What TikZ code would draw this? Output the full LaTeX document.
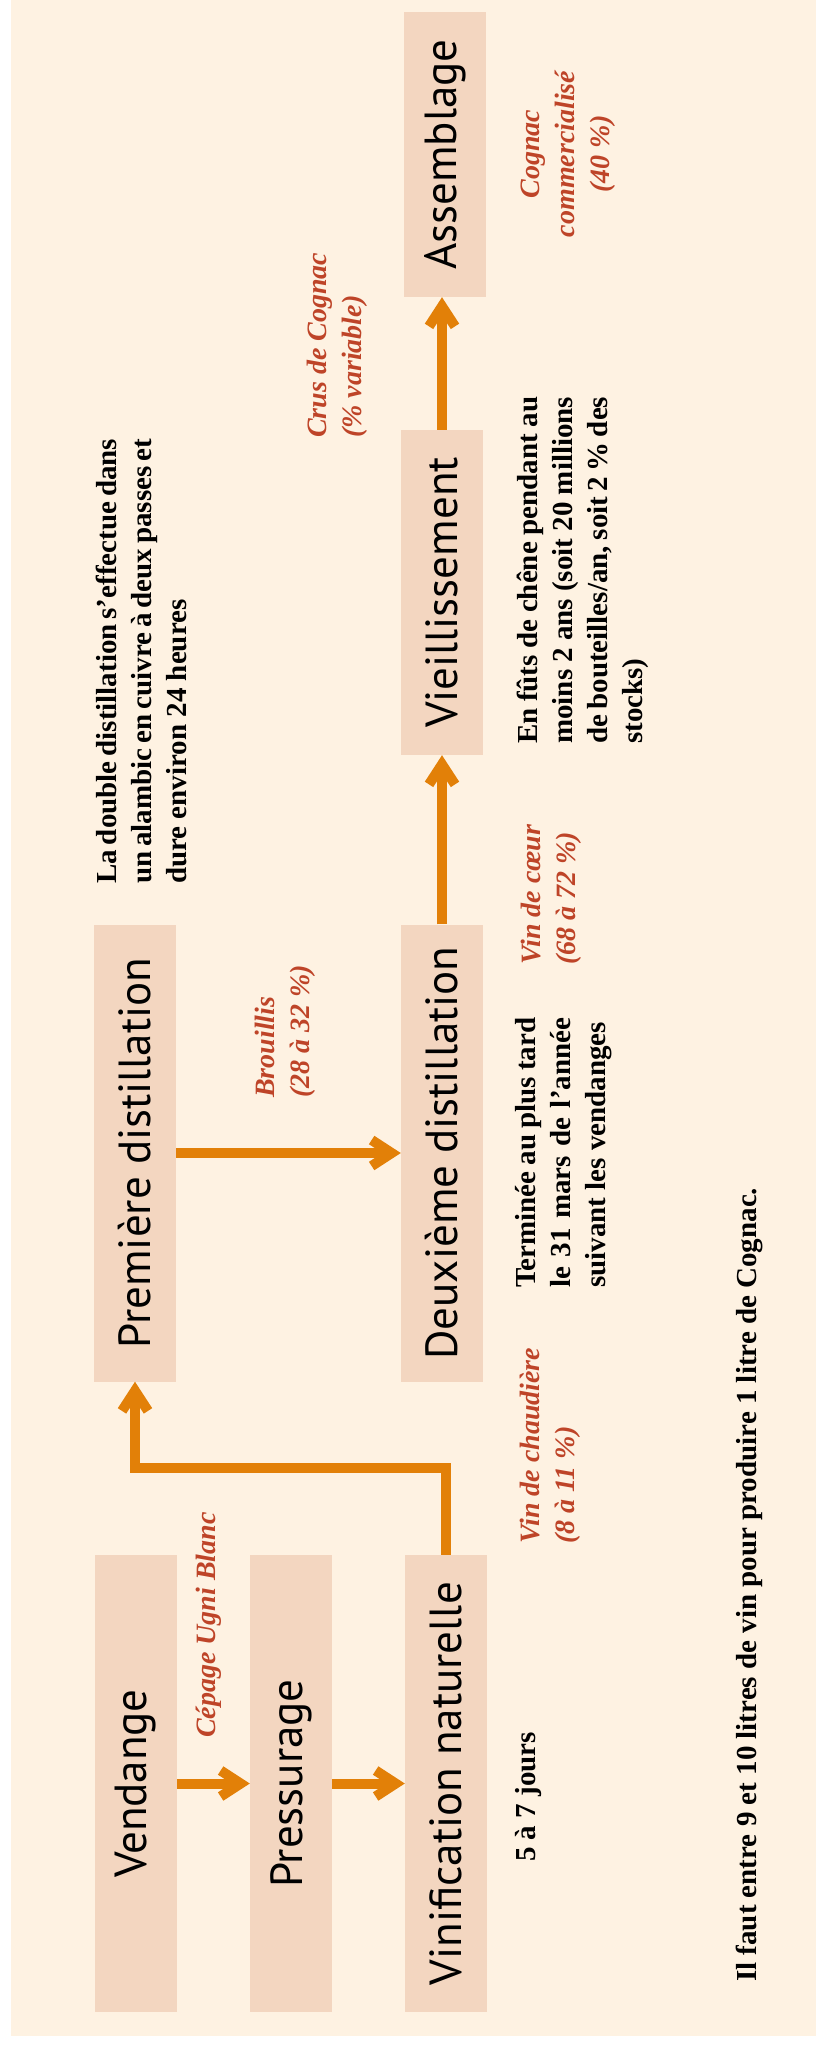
\documentclass[tikz,border=0pt]{standalone}
\usepackage{fontspec}
\usepackage{graphicx}
\setmainfont{Liberation Serif}
\newfontfamily\stagefont{PT Sans}
\usetikzlibrary{arrows.meta}

\definecolor{panelc}{RGB}{254,242,226}
\definecolor{stagec}{RGB}{243,214,192}
\definecolor{flowc}{RGB}{226,128,8}
\definecolor{yieldc}{RGB}{190,68,40}

\tikzset{
  stage/.style={fill=stagec, minimum width=82pt, minimum height=457pt, inner sep=0pt,
    font=\stagefont\fontsize{45}{50}\selectfont},
  flow/.style={draw=flowc, line width=10pt, line join=miter,
    -{Straight Barb[length=20pt,width=26pt]}},
  note/.style={rotate=90, anchor=north west, inner sep=0pt, align=justify,
    font=\bfseries\fontsize{29}{35}\selectfont},
  yield/.style={rotate=90, anchor=north west, inner sep=0pt, align=left, text=yieldc,
    font=\bfseries\itshape\fontsize{28}{35}\selectfont},
}

\begin{document}
\begin{tikzpicture}[x=1pt,y=1pt,yscale=-1,xscale=1]
\useasboundingbox (0,0) rectangle (816,2045);
\fill [white] (0,0) rectangle (816,2045);
%Shape: Rectangle [panel]
\fill [panelc] (11,0) rectangle (816,2036);

%Shape: Rectangle [stages]
\draw (136,1783.5) node [stage] (vend) {\rotatebox{90}{Vendange}};
\draw (291,1783.5) node [stage] (press) {\rotatebox{90}{Pressurage}};
\draw (446,1783.5) node [stage] (vinif) {\rotatebox{90}{Vinification naturelle}};
\draw (135,1153) node [stage] (prem) {\rotatebox{90}{Première distillation}};
\draw (442,1153) node [stage] (deux) {\rotatebox{90}{Deuxième distillation}};
\draw (442,592.5) node [stage, minimum height=325pt] (vieil) {\rotatebox{90}{Vieillissement}};
\draw (445,154.5) node [stage, minimum height=285pt] (assem) {\rotatebox{90}{Assemblage}};

%Connector: arrows
\coordinate (bend) at (446,1468);
\draw [flow] (vend) -- (press);
\draw [flow] (press) -- (vinif);
\draw [flow] (vinif.north) -- (bend) -| (prem.south);
\draw [flow] (prem) -- (deux);
\draw [flow] (deux.north) -- (vieil.south);
\draw [flow] (vieil.north) -- (vieil.north |- assem.south);

% Text Node
\draw (196,1738) node [yield] (cepage) {Cépage Ugni Blanc};
% Text Node
\draw (520,1544) node [yield] (chaud) {Vin de chaudière\\(8 à 11 \%)};
% Text Node
\draw (255,1098) node [yield] (brouil) {Brouillis\\(28 à 32 \%)};
% Text Node
\draw (521,965) node [yield] (coeur) {Vin de cœur\\(68 à 72 \%)};
% Text Node
\draw (307,438) node [yield] (crus) {Crus de Cognac\\(\% variable)};
% Text Node
\draw (521,154) node [yield, anchor=north, align=center] (vente) {Cognac\\commercialisé\\(40 \%)};

% Text Node
\draw (515,1862) node [note] (jours) {5 à 7 jours};
% Text Node
\draw (96,884) node [note, text width=445pt] (alambic) {La double distillation s’effectue dans\linebreak un alambic en cuivre à deux passes et\linebreak dure environ 24 heures};
% Text Node
\draw (515,1288) node [note, text width=270pt] (mars) {Terminée au plus tard\linebreak le 31 mars de l’année\linebreak suivant les vendanges};
% Text Node
\draw (517,744) node [note, text width=347pt] (futs) {En fûts de chêne pendant au\linebreak moins 2 ans (soit 20 millions\linebreak de bouteilles/an, soit 2 \% des\linebreak stocks)};
% Text Node
\draw (736,1982) node [note] (litres) {Il faut entre 9 et 10 litres de vin pour produire 1 litre de Cognac.};

\end{tikzpicture}
\end{document}
